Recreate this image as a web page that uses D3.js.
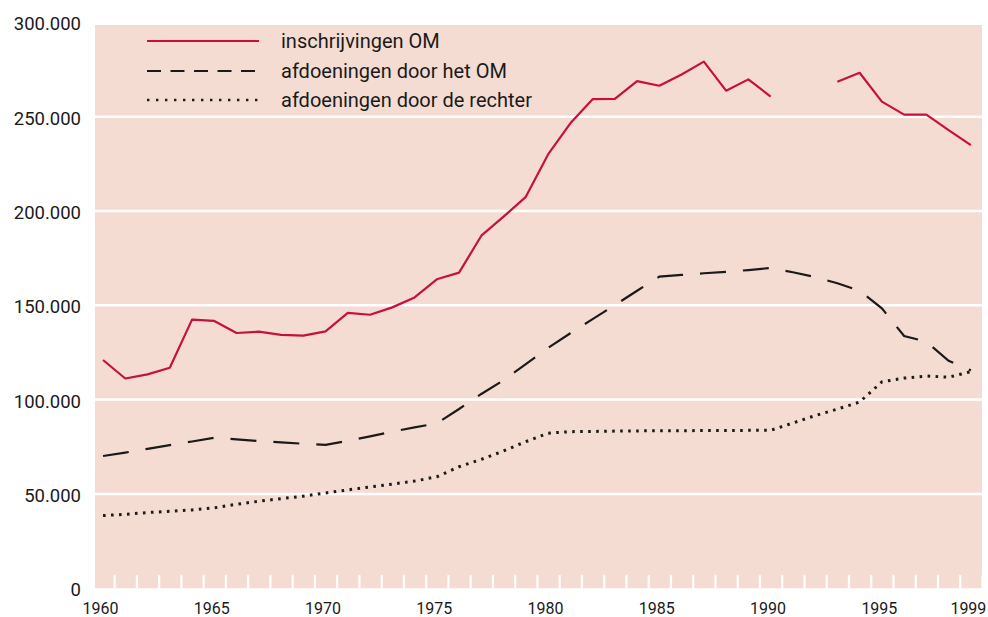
<!DOCTYPE html>
<html>
<head>
<meta charset="utf-8">
<script src="https://cdn.jsdelivr.net/npm/d3@7"></script>
<style>
  body { margin: 0; background: #fff; }
  svg { display: block; font-family: Roboto, "Liberation Sans", sans-serif; }
</style>
</head>
<body>
<script>
// years on the x axis
const years = [1960, 1961, 1962, 1963, 1964, 1965, 1966, 1967, 1968, 1969,
               1970, 1971, 1972, 1973, 1974, 1975, 1976, 1977, 1978, 1979,
               1980, 1981, 1982, 1983, 1984, 1985, 1986, 1987, 1988, 1989,
               1990, 1991, 1992, 1993, 1994, 1995, 1996, 1997, 1998, 1999];

// inschrijvingen OM (x 1000), no data for 1991-1992
const inschrijvingen = [121.0, 111.2, 113.4, 116.9, 142.4, 141.7, 135.3, 136.0, 134.3, 133.9,
                        136.2, 146.0, 145.0, 148.9, 154.2, 163.8, 167.3, 186.9, 197.0, 207.5,
                        230.0, 246.5, 259.3, 259.4, 268.9, 266.4, 272.4, 279.2, 263.8, 269.8,
                        260.7, null, null, 268.5, 273.3, 258.0, 251.1, 251.1, 242.9, 234.9];

// afdoeningen door het OM (x 1000)
const afdoeningenOM = [70.1, 71.9, 73.9, 75.9, 77.8, 79.8, 78.9, 78.0, 77.3, 76.6,
                       76.0, 78.2, 80.5, 83.0, 85.3, 87.4, 95.0, 103.0, 110.3, 118.8,
                       127.4, 135.2, 142.7, 150.1, 157.7, 165.2, 166.1, 167.0, 167.7, 168.7,
                       169.8, 167.5, 165.0, 161.7, 157.7, 148.4, 133.7, 130.7, 120.6, 115.5];

// afdoeningen door de rechter (x 1000)
const afdoeningenRechter = [38.5, 39.2, 40.1, 40.8, 41.5, 42.6, 44.5, 46.1, 47.5, 48.8,
                            50.5, 52.1, 53.7, 55.2, 56.8, 59.1, 64.4, 68.3, 72.8, 77.7,
                            82.2, 83.0, 83.1, 83.3, 83.4, 83.5, 83.5, 83.6, 83.6, 83.7,
                            83.7, 87.6, 91.5, 95.0, 98.7, 109.4, 111.4, 112.5, 111.9, 114.8];

const yTicks = [0, 50000, 100000, 150000, 200000, 250000, 300000];
const yearLabels = [1960, 1965, 1970, 1975, 1980, 1985, 1990, 1995, 1999];
const legendLabels = ['inschrijvingen OM', 'afdoeningen door het OM', 'afdoeningen door de rechter'];

document.addEventListener('DOMContentLoaded', function() {
  const width = 988;
  const height = 617;

  const bg = '#f5dcd2';
  const red = '#c8103c';
  const ink = '#1a1a1a';

  const svg = d3.select('body').append('svg')
                .attr('width', width)
                .attr('height', height);

  // scales
  const x = d3.scaleLinear().domain([1959.5, 1999.5]).range([91.9, 982]);
  const y = d3.scaleLinear().domain([0, 300000]).range([588.2, 22.4]);

  // plot background
  svg.append('rect')
     .attr('x', 95)
     .attr('y', 25)
     .attr('width', 982 - 95)
     .attr('height', y(0) - 25)
     .attr('fill', bg);

  // white horizontal gridlines
  svg.selectAll('.grid')
     .data(yTicks.filter(d => d > 0 && d < 300000))
     .enter()
     .append('line')
     .attr('class', 'grid')
     .attr('x1', 95)
     .attr('x2', 982)
     .attr('y1', d => y(d))
     .attr('y2', d => y(d))
     .attr('stroke', '#fff')
     .attr('stroke-width', 2.5);

  // y axis labels
  const fmt = d3.formatLocale({decimal: ',', thousands: '.', grouping: [3], currency: ['', '']}).format(',d');
  const yAxis = svg.append('g')
     .attr('transform', 'translate(95,0)')
     .call(d3.axisLeft(y).tickValues(yTicks).tickFormat(fmt).tickSize(0).tickPadding(14));
  yAxis.select('.domain').remove();
  yAxis.selectAll('text')
       .attr('dy', '0.4em')
       .attr('fill', ink)
       .style('font-size', '18.5px')
       .style('font-family', 'Roboto, sans-serif');

  // white year ticks at the bottom of the plot
  const halfYears = years.map(d => d + 0.5);
  const tickAxis = svg.append('g')
     .attr('transform', `translate(0,${y(0)})`)
     .call(d3.axisBottom(x).tickValues(halfYears).tickFormat('').tickSize(-13));
  tickAxis.select('.domain').remove();
  tickAxis.selectAll('line').attr('stroke', '#fff').attr('stroke-width', 2.2);

  // year labels
  const xAxis = svg.append('g')
     .attr('transform', `translate(-3,${y(0)})`)
     .call(d3.axisBottom(x).tickValues(yearLabels).tickFormat(d3.format('d')).tickSize(0).tickPadding(14.6));
  xAxis.select('.domain').remove();
  xAxis.selectAll('text')
       .attr('fill', ink)
       .style('font-size', '16px')
       .style('font-family', 'Roboto, sans-serif');

  // lines
  const lineGen = vals => d3.line()
     .defined((d, i) => vals[i] !== null)
     .x((d, i) => x(years[i]))
     .y((d, i) => y(vals[i] * 1000))(vals);

  svg.append('path')
     .attr('d', lineGen(afdoeningenRechter))
     .attr('fill', 'none')
     .attr('stroke', ink)
     .attr('stroke-width', 3)
     .attr('stroke-dasharray', '2.6,5.4');

  svg.append('path')
     .attr('d', lineGen(afdoeningenOM))
     .attr('fill', 'none')
     .attr('stroke', ink)
     .attr('stroke-width', 2.2)
     .attr('stroke-dasharray', '26,17');

  svg.append('path')
     .attr('d', lineGen(inschrijvingen))
     .attr('fill', 'none')
     .attr('stroke', red)
     .attr('stroke-width', 2.2)
     .attr('stroke-linejoin', 'round');

  // legend
  const legendY = [41, 71, 100];
  const legendStyles = [
    {stroke: red, width: 2.2, dash: null},
    {stroke: ink, width: 2.2, dash: '14,9.5'},
    {stroke: ink, width: 2.5, dash: '2.4,6.6'}
  ];

  const legend = svg.selectAll('.legend')
     .data(legendLabels)
     .enter()
     .append('g')
     .attr('class', 'legend')
     .attr('transform', (d, i) => `translate(0,${legendY[i]})`);

  legend.append('line')
     .attr('x1', 147)
     .attr('x2', 259)
     .attr('y1', 0)
     .attr('y2', 0)
     .attr('stroke', (d, i) => legendStyles[i].stroke)
     .attr('stroke-width', (d, i) => legendStyles[i].width)
     .attr('stroke-dasharray', (d, i) => legendStyles[i].dash);

  legend.append('text')
     .attr('x', 281)
     .attr('y', 7)
     .attr('fill', ink)
     .style('font-size', '20px')
     .text(d => d);
});
</script>
</body>
</html>
